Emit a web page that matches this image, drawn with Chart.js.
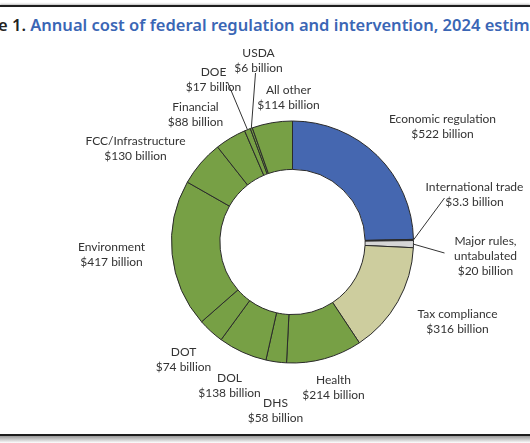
<!DOCTYPE html>
<html>
<head>
<meta charset="utf-8">
<script src="https://cdn.jsdelivr.net/npm/chart.js@4.4.1/dist/chart.umd.min.js"></script>
<style>
  html, body { margin: 0; padding: 0; background: #fff; }
  #wrap { position: relative; width: 530px; height: 443px; overflow: hidden; }
  #chart { position: absolute; left: 0; top: 0; }
  .rule-top { position: absolute; left: 0; top: 5px; width: 530px; height: 2px; background: #1e1e1e; box-shadow: 0 -1px 2px #bbb; }
  .rule-bottom { position: absolute; left: 0; top: 434px; width: 530px; height: 2px; background: #1e1e1e; }
  .shade { position: absolute; left: 0; top: 436px; width: 530px; height: 7px; background: linear-gradient(#999, #fff); }
  #title { position: absolute; top: 13px; white-space: nowrap; font: 600 16.5px "Noto Sans", sans-serif; color: #3a66b5; }
  #title b { color: #222; font-weight: 600; }
</style>
</head>
<body>
<div id="wrap">
  <div class="rule-top"></div>
  <div id="title"><b><span id="cut">Figur</span>e 1.</b> Annual cost of federal regulation and intervention, 2024 estimate</div>
  <canvas id="chart" width="530" height="443"></canvas>
  <div class="rule-bottom"></div>
  <div class="shade"></div>
</div>
<script>
// data, clockwise from 12 o'clock ($ billions)
const categories = [
  "Economic regulation", "International trade", "Major rules, untabulated", "Tax compliance",
  "Health", "DHS", "DOL", "DOT", "Environment", "FCC/Infrastructure",
  "Financial", "DOE", "USDA", "All other"
];
const costs = [522, 3.3, 20, 316, 214, 58, 138, 74, 417, 130, 88, 17, 6, 114];
const valueLabels = [
  "$522 billion", "$3.3 billion", "$20 billion", "$316 billion",
  "$214 billion", "$58 billion", "$138 billion", "$74 billion", "$417 billion", "$130 billion",
  "$88 billion", "$17 billion", "$6 billion", "$114 billion"
];

const BLUE = "#4567b0", GREEN = "#77a045", TAN = "#cdcd9e", GREY = "#d6d6d6", DARK = "#1b1b1b";
const sliceColors = [BLUE, DARK, GREY, TAN, GREEN, GREEN, GREEN, GREEN, GREEN, GREEN, GREEN, GREEN, GREEN, GREEN];

// label text lines and where they sit, relative to the doughnut centre
const labelLines = [
  ["Economic regulation"], ["International trade"], ["Major rules,", "untabulated"], ["Tax compliance"],
  ["Health"], ["DHS"], ["DOL"], ["DOT"], ["Environment"], ["FCC/Infrastructure"],
  ["Financial"], ["DOE"], ["USDA"], ["All other"]
];
const labelOffsets = [
  [150, -123], [182, -55], [193, -1], [165, 72],
  [41, 138], [-17, 161], [-63, 136], [-109, 110], [-181, 5], [-157, -101],
  [-97, -135], [-79, -170], [-34, -189], [-4, -152]
];
// leader lines: slice index -> end point relative to centre
const leaders = { 1: [152, -44], 2: [152, 11], 11: [-65, -160], 12: [-37, -169] };

// place the cropped title so "e 1." starts near the left edge
document.getElementById("title").style.left = (-2 - document.getElementById("cut").getBoundingClientRect().width) + "px";

const labelPlugin = {
  id: "sliceLabels",
  afterDraw(chart) {
    const ctx = chart.ctx;
    const arcs = chart.getDatasetMeta(0).data;
    const cx = arcs[0].x, cy = arcs[0].y;
    ctx.save();
    ctx.strokeStyle = "#333";
    ctx.lineWidth = 1;
    Object.keys(leaders).forEach(k => {
      const arc = arcs[k];
      const mid = (arc.startAngle + arc.endAngle) / 2;
      const r = arc.outerRadius;
      ctx.beginPath();
      ctx.moveTo(cx + Math.cos(mid) * r, cy + Math.sin(mid) * r);
      ctx.lineTo(cx + leaders[k][0], cy + leaders[k][1]);
      ctx.stroke();
    });
    ctx.fillStyle = "#333";
    ctx.font = '12px "Lato", sans-serif';
    ctx.textAlign = "center";
    ctx.textBaseline = "middle";
    labelLines.forEach((lines, i) => {
      const all = lines.concat([valueLabels[i]]);
      all.forEach((t, j) => {
        ctx.fillText(t, cx + labelOffsets[i][0], cy + labelOffsets[i][1] + j * 15);
      });
    });
    ctx.restore();
  }
};

new Chart(document.getElementById("chart"), {
  type: "doughnut",
  data: {
    labels: categories,
    datasets: [{
      data: costs,
      backgroundColor: sliceColors,
      borderColor: "#2a2a2a",
      borderWidth: 1
    }]
  },
  options: {
    responsive: false,
    devicePixelRatio: 1,
    animation: false,
    cutout: "60%",
    events: [],
    layout: { padding: { left: 171, right: 116, top: 120, bottom: 79 } },
    plugins: {
      legend: { display: false },
      tooltip: { enabled: false }
    }
  },
  plugins: [labelPlugin]
});
</script>
</body>
</html>
